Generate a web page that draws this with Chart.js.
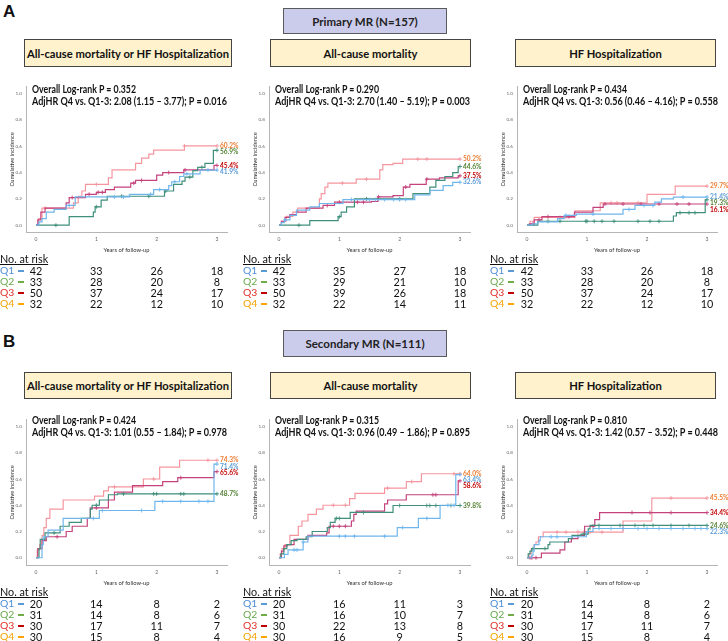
<!DOCTYPE html>
<html><head><meta charset="utf-8">
<script src="https://cdn.jsdelivr.net/npm/chart.js@4.4.1/dist/chart.umd.min.js"></script>
<style>
html,body{margin:0;padding:0;background:#fff;}
#root{position:relative;width:728px;height:641px;overflow:hidden;font-family:Lato,"Open Sans",sans-serif;color:#111;}
.abs{position:absolute;white-space:nowrap;}
.letter{font-family:"Liberation Sans",Arial,sans-serif;font-weight:bold;font-size:17px;line-height:17px;}
.hdr{position:absolute;background:#cbcbeb;border:1px solid #5a5a5a;box-sizing:border-box;display:flex;align-items:center;justify-content:center;font-weight:bold;font-size:11.5px;color:#222;}
.ttl{position:absolute;background:#fff2cc;border:1px solid #444;box-sizing:border-box;display:flex;align-items:center;justify-content:center;font-weight:bold;font-size:11.2px;color:#111;}
.stat{font-weight:bold;font-size:10.6px;line-height:12px;color:#111;transform-origin:0 50%;}
.risk{font-size:10.8px;line-height:11px;color:#111;}
.qlab{font-size:10.4px;line-height:11px;}
canvas{position:absolute;}
</style></head><body><div id="root"></div>
<script>
// ---------------- DATA ----------------
const categories = ['Q1','Q2','Q3','Q4'];
const xTicks = [0,1,2,3];
const yTicks = [0,0.2,0.4,0.6,0.8,1.0];
const riskTimes = [0,1,2,3];
const END = 3;

// Primary MR — All-cause mortality or HF hospitalization  [time, cumulative incidence]
const A1_Q1 = [[0.05,0.025],[0.1,0.05],[0.17,0.1],[0.3,0.12],[0.5,0.15],[0.65,0.215],[1.55,0.235],[1.95,0.27],[2.2,0.30],[2.25,0.33],[2.38,0.37],[2.45,0.39],[2.72,0.419]];
const A1_Q2 = [[0.55,0.065],[0.95,0.1],[0.98,0.14],[1.08,0.19],[1.18,0.22],[2.13,0.26],[2.28,0.31],[2.42,0.335],[2.47,0.365],[2.6,0.415],[2.68,0.44],[2.8,0.47],[2.94,0.569]];
const A1_Q3 = [[0.03,0.04],[0.08,0.1],[0.15,0.13],[0.5,0.17],[0.55,0.21],[0.82,0.235],[1.0,0.25],[1.15,0.27],[1.3,0.29],[1.57,0.32],[1.65,0.34],[2.0,0.38],[2.1,0.40],[2.45,0.42],[2.95,0.454]];
const A1_Q4 = [[0.04,0.05],[0.1,0.13],[0.62,0.17],[0.7,0.22],[0.76,0.26],[0.82,0.31],[1.2,0.36],[1.26,0.42],[1.65,0.47],[1.75,0.51],[1.87,0.54],[1.95,0.57],[2.46,0.602]];
const A1_Q1_cens = [0.55,1.3,1.45,1.9,2.05,2.3,2.5,2.85];
const A1_Q2_cens = [0.33,1.0,1.42,1.87,2.15,2.55,2.75];
const A1_Q3_cens = [0.6,0.88,1.03,1.1,1.62,1.75,2.2,2.47];
const A1_Q4_cens = [0.15,1.0,2.46];

// Primary MR — All-cause mortality
const A2_Q1 = [[0.04,0.02],[0.09,0.04],[0.18,0.075],[0.29,0.115],[0.51,0.14],[0.67,0.165],[1.06,0.195],[2.25,0.23],[2.5,0.265],[2.72,0.3],[2.88,0.326]];
const A2_Q2 = [[0.51,0.035],[0.98,0.065],[1.03,0.1],[1.12,0.14],[1.25,0.2],[2.22,0.24],[2.5,0.29],[2.6,0.34],[2.75,0.37],[2.88,0.4],[2.97,0.446]];
const A2_Q3 = [[0.04,0.03],[0.1,0.06],[0.18,0.08],[0.29,0.1],[0.45,0.13],[0.73,0.15],[0.92,0.175],[1.53,0.18],[1.64,0.215],[1.89,0.225],[2.06,0.29],[2.17,0.31],[2.44,0.35],[2.66,0.36],[2.97,0.375]];
const A2_Q4 = [[0.04,0.03],[0.12,0.067],[0.23,0.1],[0.31,0.13],[0.67,0.2],[0.7,0.24],[0.76,0.29],[0.81,0.32],[1.28,0.35],[1.67,0.42],[1.72,0.46],[1.89,0.47],[2.05,0.502]];
const A2_Q1_cens = [0.1,1.2,1.5,1.6,1.75,1.9,2.0,2.1];
const A2_Q2_cens = [0.33,1.0,1.45,2.0];
const A2_Q3_cens = [0.8,1.0,1.3,1.4,1.65,2.1,2.45];
const A2_Q4_cens = [1.05,1.45,2.3,2.45];

// Primary MR — HF hospitalization
const A3_Q1 = [[0.09,0.01],[0.18,0.025],[0.51,0.05],[0.62,0.075],[0.82,0.085],[1.6,0.12],[1.8,0.15],[2.13,0.175],[2.24,0.2],[2.44,0.214]];
const A3_Q2 = [[0.18,0.03],[2.44,0.07],[2.49,0.095],[2.97,0.193]];
const A3_Q3 = [[0.04,0.01],[0.12,0.04],[0.25,0.065],[0.79,0.1],[1.1,0.135],[1.27,0.161]];
const A3_Q4 = [[0.05,0.03],[0.12,0.06],[0.8,0.11],[1.22,0.17],[2.0,0.235],[2.47,0.297]];
const A3_Q1_cens = [0.65,1.1,1.7,1.95,2.1,2.6];
const A3_Q2_cens = [0.35,0.55,0.98,1.0,1.12,1.25,1.45,1.85,2.05,2.2,2.55,2.7,2.8];
const A3_Q3_cens = [0.1,0.2,0.35,0.7,1.3,1.6,1.9,2.2,2.5,2.7];
const A3_Q4_cens = [0.55,0.65,1.4,1.5,1.85];

// Secondary MR — All-cause mortality or HF hospitalization
const B1_Q1 = [[0.1,0.1],[0.12,0.16],[0.2,0.21],[0.45,0.3],[1.05,0.36],[1.97,0.43],[2.95,0.714]];
const B1_Q2 = [[0.05,0.07],[0.07,0.14],[0.15,0.19],[0.4,0.24],[0.55,0.27],[0.75,0.3],[0.9,0.37],[0.93,0.4],[1.05,0.44],[1.2,0.48],[1.35,0.487]];
const B1_Q3 = [[0.03,0.07],[0.1,0.13],[0.17,0.16],[0.5,0.2],[0.6,0.24],[0.85,0.3],[0.9,0.38],[1.2,0.44],[1.3,0.5],[1.6,0.55],[2.1,0.58],[2.35,0.61],[2.95,0.656]];
const B1_Q4 = [[0.02,0.06],[0.06,0.1],[0.1,0.17],[0.13,0.23],[0.17,0.3],[0.23,0.37],[0.45,0.44],[0.97,0.47],[1.12,0.51],[1.2,0.54],[1.78,0.6],[2.05,0.69],[2.38,0.743]];
const B1_Q1_cens = [0.95,1.1,1.75,2.1,2.4,2.7,2.85];
const B1_Q2_cens = [0.3,1.0,1.45,1.95,2.0,2.4,2.45];
const B1_Q3_cens = [0.35,1.0,2.4];
const B1_Q4_cens = [1.3,1.95,2.85];

// Secondary MR — All-cause mortality
const B2_Q1 = [[0.09,0.025],[0.15,0.06],[0.4,0.12],[0.48,0.164],[1.96,0.23],[2.31,0.3],[2.67,0.4],[2.93,0.634]];
const B2_Q2 = [[0.03,0.03],[0.08,0.07],[0.13,0.1],[0.2,0.13],[0.3,0.14],[0.45,0.16],[0.55,0.2],[0.8,0.23],[0.85,0.27],[0.93,0.3],[1.18,0.345],[1.89,0.398]];
const B2_Q3 = [[0.04,0.05],[0.08,0.09],[0.14,0.1],[0.25,0.14],[0.48,0.17],[0.79,0.19],[0.83,0.24],[1.2,0.28],[1.24,0.33],[1.28,0.356],[1.75,0.41],[1.8,0.44],[2.11,0.48],[2.97,0.586]];
const B2_Q4 = [[0.02,0.03],[0.05,0.07],[0.1,0.1],[0.18,0.17],[0.32,0.24],[0.38,0.28],[0.48,0.33],[0.62,0.37],[0.73,0.4],[1.17,0.45],[1.26,0.49],[1.75,0.53],[2.11,0.58],[2.36,0.64]];
const B2_Q1_cens = [0.25,0.3,0.4,1.0,1.1,1.25,1.75,2.05,2.45,2.8,2.9];
const B2_Q2_cens = [0.95,1.0,1.4,2.0,2.45,2.5,2.6,2.85];
const B2_Q3_cens = [0.9,1.0,1.1,2.55,2.6];
const B2_Q4_cens = [0.9,1.1,1.8,2.2,2.9];

// Secondary MR — HF hospitalization
const B3_Q1 = [[0.08,0.02],[0.1,0.05],[0.12,0.1],[0.2,0.13],[0.22,0.16],[0.99,0.2],[1.1,0.223]];
const B3_Q2 = [[0.02,0.03],[0.05,0.05],[0.08,0.07],[0.35,0.1],[0.38,0.12],[0.69,0.145],[0.75,0.17],[0.9,0.18],[1.02,0.22],[1.05,0.246]];
const B3_Q3 = [[0.24,0.035],[0.55,0.06],[0.63,0.12],[0.74,0.145],[0.85,0.17],[0.96,0.24],[1.13,0.29],[1.21,0.344]];
const B3_Q4 = [[0.03,0.03],[0.07,0.07],[0.12,0.1],[0.15,0.12],[0.19,0.16],[0.27,0.195],[1.6,0.28],[2.08,0.455]];
const B3_Q1_cens = [0.4,0.5,1.2,1.4,1.6,1.85,2.0,2.2,2.4,2.6,2.8,2.9];
const B3_Q2_cens = [0.1,0.3,0.95,1.2,1.55,1.8,1.95,2.1,2.4,2.7];
const B3_Q3_cens = [0.05,0.08,0.15,1.1,1.75,2.05,2.4];
const B3_Q4_cens = [0.5,0.65,0.85,0.95,1.05,1.25,2.4];

// Number at risk (times 0,1,2,3)
const A1_risk_Q1 = [42,33,26,18], A1_risk_Q2 = [33,28,20,8], A1_risk_Q3 = [50,37,24,17], A1_risk_Q4 = [32,22,12,10];
const A2_risk_Q1 = [42,35,27,18], A2_risk_Q2 = [33,29,21,10], A2_risk_Q3 = [50,39,26,18], A2_risk_Q4 = [32,22,14,11];
const A3_risk_Q1 = [42,33,26,18], A3_risk_Q2 = [33,28,20,8], A3_risk_Q3 = [50,37,24,17], A3_risk_Q4 = [32,22,12,10];
const B1_risk_Q1 = [20,14,8,2], B1_risk_Q2 = [31,14,8,6], B1_risk_Q3 = [30,17,11,7], B1_risk_Q4 = [30,15,8,4];
const B2_risk_Q1 = [20,16,11,3], B2_risk_Q2 = [31,16,10,7], B2_risk_Q3 = [30,22,13,8], B2_risk_Q4 = [30,16,9,5];
const B3_risk_Q1 = [20,14,8,2], B3_risk_Q2 = [31,14,8,6], B3_risk_Q3 = [30,17,11,7], B3_risk_Q4 = [30,15,8,4];

const outcomeTitles = ['All-cause mortality or HF Hospitalization','All-cause mortality','HF Hospitalization'];
const groupTitles = ['Primary MR (N=157)','Secondary MR (N=111)'];
const groupLetters = ['A','B'];
const A1_stats = ['Overall Log-rank P = 0.352','AdjHR Q4 vs. Q1-3: 2.08 (1.15 \u2013 3.77); P = 0.016'];
const A2_stats = ['Overall Log-rank P = 0.290','AdjHR Q4 vs. Q1-3: 2.70 (1.40 \u2013 5.19); P = 0.003'];
const A3_stats = ['Overall Log-rank P = 0.434','AdjHR Q4 vs. Q1-3: 0.56 (0.46 \u2013 4.16); P = 0.558'];
const B1_stats = ['Overall Log-rank P = 0.424','AdjHR Q4 vs. Q1-3: 1.01 (0.55 \u2013 1.84); P = 0.978'];
const B2_stats = ['Overall Log-rank P = 0.315','AdjHR Q4 vs. Q1-3: 0.96 (0.49 \u2013 1.86); P = 0.895'];
const B3_stats = ['Overall Log-rank P = 0.810','AdjHR Q4 vs. Q1-3: 1.42 (0.57 \u2013 3.52); P = 0.448'];

// ---------------- STYLE / LAYOUT ----------------
const lineColors = ['#6fb6ec','#3f8f7c','#c4437c','#f5969f'];
const endColors  = ['#5b9bd5','#548235','#c00000','#ed7d31'];
const qTextColors = ['#4f8fd6','#6aa84f','#e0302a','#f5a300'];
const dashColors = ['#5b9bd5','#70ad47','#c00000','#ffa500'];
const statWidths = [104, 195];

const cols = [{L:26,X0:36,X3:217,tx:0,sx:32,box:[24,232]},{L:269,X0:279,X3:460,tx:243,sx:275,box:[270,471]},{L:517,X0:527,X3:707,tx:490,sx:523,box:[515,716]}];
const rows = [{Y1:89,Y0:225,YB:232,tY:39,tH:28,sY:83,rY:253,hY:8,hH:26,lY:3},
              {Y1:422,Y0:557.5,YB:565,tY:372,tH:27,sY:414,rY:586,hY:330,hH:27,lY:333}];

const panelData = {
  A1:{curves:[A1_Q1,A1_Q2,A1_Q3,A1_Q4],cens:[A1_Q1_cens,A1_Q2_cens,A1_Q3_cens,A1_Q4_cens],risk:[A1_risk_Q1,A1_risk_Q2,A1_risk_Q3,A1_risk_Q4],stats:A1_stats},
  A2:{curves:[A2_Q1,A2_Q2,A2_Q3,A2_Q4],cens:[A2_Q1_cens,A2_Q2_cens,A2_Q3_cens,A2_Q4_cens],risk:[A2_risk_Q1,A2_risk_Q2,A2_risk_Q3,A2_risk_Q4],stats:A2_stats},
  A3:{curves:[A3_Q1,A3_Q2,A3_Q3,A3_Q4],cens:[A3_Q1_cens,A3_Q2_cens,A3_Q3_cens,A3_Q4_cens],risk:[A3_risk_Q1,A3_risk_Q2,A3_risk_Q3,A3_risk_Q4],stats:A3_stats},
  B1:{curves:[B1_Q1,B1_Q2,B1_Q3,B1_Q4],cens:[B1_Q1_cens,B1_Q2_cens,B1_Q3_cens,B1_Q4_cens],risk:[B1_risk_Q1,B1_risk_Q2,B1_risk_Q3,B1_risk_Q4],stats:B1_stats},
  B2:{curves:[B2_Q1,B2_Q2,B2_Q3,B2_Q4],cens:[B2_Q1_cens,B2_Q2_cens,B2_Q3_cens,B2_Q4_cens],risk:[B2_risk_Q1,B2_risk_Q2,B2_risk_Q3,B2_risk_Q4],stats:B2_stats},
  B3:{curves:[B3_Q1,B3_Q2,B3_Q3,B3_Q4],cens:[B3_Q1_cens,B3_Q2_cens,B3_Q3_cens,B3_Q4_cens],risk:[B3_risk_Q1,B3_risk_Q2,B3_risk_Q3,B3_risk_Q4],stats:B3_stats}
};

const root = document.getElementById('root');
function el(cls, text, css){ const d=document.createElement('div'); d.className=cls; if(text!=null) d.textContent=text; Object.assign(d.style,css||{}); root.appendChild(d); return d; }
function fitWidth(d, w){ const cw=d.getBoundingClientRect().width; if(cw>0) d.style.transform='scaleX('+(w/cw)+')'; }

function buildCurve(steps, cens){
  const all = steps.map(s=>({x:s[0],y:s[1],c:false})).concat(cens.map(t=>({x:t,c:true})));
  all.sort((a,b)=>a.x-b.x || (a.c?1:0)-(b.c?1:0));
  const pts=[{x:0,y:0,c:false}];
  let cur=0;
  for(const p of all){ if(p.c){pts.push({x:p.x,y:cur,c:true});} else {cur=p.y;pts.push({x:p.x,y:p.y,c:false});} }
  pts.push({x:END,y:cur,c:true});
  return pts;
}

const endLabelPlugin = {
  id:'endLabels',
  afterDatasetsDraw(chart){
    const {ctx, scales:{x,y}} = chart;
    const items = chart.data.datasets.map(ds=>{const last=ds.data[ds.data.length-1];
      return {text:(last.y*100).toFixed(1)+'%', color:ds.endColor, py:y.getPixelForValue(last.y)};});
    items.sort((a,b)=>a.py-b.py);
    for(let i=1;i<items.length;i++){ if(items[i].py-items[i-1].py<6.3) items[i].py=items[i-1].py+6.3; }
    ctx.save(); ctx.font='bold 6.6px Lato, sans-serif'; ctx.textBaseline='middle'; ctx.textAlign='left';
    const px = x.getPixelForValue(END)+3;
    items.forEach(it=>{ctx.fillStyle=it.color; ctx.fillText(it.text, px, it.py);});
    ctx.restore();
  }
};

rows.forEach((r,ri)=>{
  el('abs letter', groupLetters[ri], {left:'3px', top:r.lY+'px'});
  el('hdr', groupTitles[ri], {left:'283px', top:r.hY+'px', width:'164px', height:r.hH+'px'});
});

['A','B'].forEach((g,ri)=>{
  cols.forEach((c,ci)=>{
    const r = rows[ri];
    const pd = panelData[g+(ci+1)];
    el('ttl', outcomeTitles[ci], {left:c.box[0]+'px', top:r.tY+'px', width:(c.box[1]-c.box[0])+'px', height:r.tH+'px'});
    const R = c.X3 + 10;
    const k = (c.X3-c.X0)/3, m = r.Y0-r.Y1;
    const Ytop = r.Y1 - 7;
    const xmin = -(c.X0-c.L)/k, xmax = 3 + (R-c.X3)/k;
    const ymin = -(r.YB-r.Y0)/m, ymax = 1 + (r.Y1-Ytop)/m;
    const padR = 22, padT = 2, yW = 26, xH = 22;
    const cvLeft = c.L - yW, cvTop = Ytop - padT;
    const cv = document.createElement('canvas');
    cv.width = R - cvLeft + padR; cv.height = r.YB - cvTop + xH;
    cv.style.left = cvLeft+'px'; cv.style.top = cvTop+'px';
    root.appendChild(cv);
    const chart = new Chart(cv, {
      type:'line',
      data:{datasets: pd.curves.map((cs,qi)=>({
        label:categories[qi],
        data:buildCurve(cs, pd.cens[qi]),
        borderColor:lineColors[qi], borderWidth:1.2, stepped:'before', fill:false,
        pointStyle:'cross', pointRadius:ctx=>(ctx.raw&&ctx.raw.c)?2:0, pointHoverRadius:0,
        pointBorderColor:lineColors[qi], pointBackgroundColor:lineColors[qi], pointBorderWidth:0.9,
        endColor:endColors[qi]
      }))},
      options:{
        responsive:false, animation:false, devicePixelRatio:1, events:[],
        layout:{padding:{left:0,right:padR,top:padT,bottom:0}},
        plugins:{legend:{display:false}, tooltip:{enabled:false}},
        scales:{
          x:{type:'linear', min:xmin, max:xmax,
             afterBuildTicks:s=>{s.ticks=xTicks.map(v=>({value:v}));},
             ticks:{font:{size:5, family:'Lato'}, color:'#666', padding:4, callback:v=>String(v)},
             grid:{display:false, drawTicks:false}, border:{display:true, color:'#b5b5b5', width:1},
             title:{display:true, text:'Years of follow-up', font:{size:5.8, family:'Lato'}, color:'#333', padding:{top:0,bottom:0}},
             afterFit:s=>{s.height=xH;}},
          y:{type:'linear', min:ymin, max:ymax,
             afterBuildTicks:s=>{s.ticks=yTicks.map(v=>({value:v}));},
             ticks:{font:{size:4.6, family:'Lato'}, color:'#666', padding:4, callback:v=>Number(v).toFixed(1)},
             grid:{display:false, drawTicks:false}, border:{display:true, color:'#b5b5b5', width:1},
             title:{display:true, text:'Cumulative incidence', font:{size:5.8, family:'Lato'}, color:'#333', padding:{top:9,bottom:0}},
             afterFit:s=>{s.width=yW;}}
        }
      },
      plugins:[endLabelPlugin]
    });
    pd.stats.forEach((t,li)=>{
      const d = el('abs stat', t, {left:c.sx+'px', top:(r.sY+li*11.5)+'px'});
      fitWidth(d, statWidths[li]);
    });
    el('abs risk', 'No. at risk', {left:c.tx+'px', top:r.rY+'px', textDecoration:'underline'});
    categories.forEach((q,qi)=>{
      const ty = r.rY + 1 + 11*(qi+1);
      el('abs qlab', q, {left:c.tx+'px', top:ty+'px', color:qTextColors[qi]});
      el('abs', null, {left:(c.tx+18)+'px', top:(ty+4.5)+'px', width:'6px', height:'2.5px', background:dashColors[qi]});
      pd.risk[qi].forEach((n,ti)=>{
        const px = cvLeft + chart.scales.x.getPixelForValue(riskTimes[ti]);
        el('abs risk', String(n), {left:px+'px', top:ty+'px', transform:'translateX(-50%)'});
      });
    });
  });
});
</script></body></html>
